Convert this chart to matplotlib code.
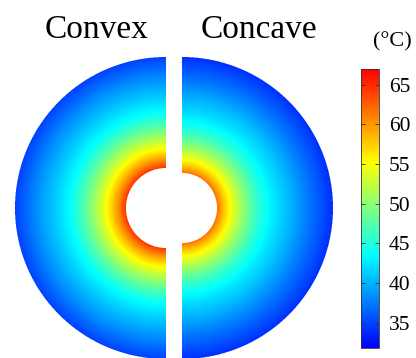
import numpy as np
import matplotlib
matplotlib.use("Agg")
import matplotlib.pyplot as plt
from matplotlib.colors import LinearSegmentedColormap, Normalize
from matplotlib.cm import ScalarMappable

plt.rcParams['font.family'] = ['Liberation Serif', 'DejaVu Serif']

# радиальный профиль температуры (радиус в px, температура в °C)
convex_r = [40, 45, 52, 60, 70, 82, 96, 112, 130, 151]
convex_t = [64.6, 61.8, 58.3, 54.9, 51.3, 47.3, 43.6, 41.0, 38.3, 34.8]

concave_r = [35, 40, 46, 54, 64, 76, 90, 106, 126, 151]
concave_t = [61.8, 59.0, 56.1, 52.8, 49.3, 45.7, 42.8, 40.5, 37.5, 34.0]

titles = ['Convex', 'Concave']
cbar_ticks = [35, 40, 45, 50, 55, 60, 65]
t_min, t_max = 31.8, 67.0

# синий - голубой - жёлтый - красный
cmap = LinearSegmentedColormap.from_list(
    'bcyr', [(0, 0, 1), (0, 1, 1), (1, 1, 0), (1, 0, 0)])
norm = Normalize(t_min, t_max)

W, H = 416, 358
fig = plt.figure(figsize=(W / 100, H / 100), dpi=100)
ax = fig.add_axes([0, 0, 1, 1])
ax.axis('off')

# поле температуры считаем с 3-кратным запасом, потом усредняем
ss = 3
xs = (np.arange(W * ss) + 0.5) / ss
ys = (np.arange(H * ss) + 0.5) / ss
X, Y = np.meshgrid(xs, ys)


def half_ring(cx, cy, radii, temps, left):
    r = np.hypot(X - cx, Y - cy)
    side = X <= cx if left else X >= cx
    inside = side & (r >= radii[0]) & (r <= radii[-1])
    T = np.interp(r, radii, temps)
    return T, inside


T1, m1 = half_ring(166, 208, convex_r, convex_t, left=True)
T2, m2 = half_ring(182, 208, concave_r, concave_t, left=False)
T = np.where(m1, T1, T2)
mask = m1 | m2

rgba = cmap(norm(T))
rgba[..., 3] = mask
rgba[..., :3] *= rgba[..., 3:4]
rgba = rgba.reshape(H, ss, W, ss, 4).mean(axis=(1, 3))
alpha = rgba[..., 3:4]
rgba[..., :3] = np.where(alpha > 0, rgba[..., :3] / np.maximum(alpha, 1e-9), 1)

ax.imshow(rgba, extent=(0, W, H, 0), interpolation='nearest', aspect='auto')
ax.set_xlim(0, W)
ax.set_ylim(H, 0)

ax.text(97, 38, titles[0], fontsize=24, ha='center', va='baseline')
ax.text(259, 38, titles[1], fontsize=24, ha='center', va='baseline')
ax.text(392, 42, '(°C)', fontsize=16, ha='center', va='center')

# шкала цветов
cax = fig.add_axes([361 / W, (H - 348) / H, 18 / W, (348 - 69) / H])
cb = fig.colorbar(ScalarMappable(norm=norm, cmap=cmap), cax=cax,
                  ticks=cbar_ticks)
cb.outline.set_linewidth(0.6)
cb.outline.set_edgecolor('#333333')
cax.tick_params(direction='in', length=3, width=0.6, labelsize=15.5,
                pad=7, left=True, right=True, colors='#333333',
                labelcolor='black')

fig.savefig('out.png', dpi=100)
